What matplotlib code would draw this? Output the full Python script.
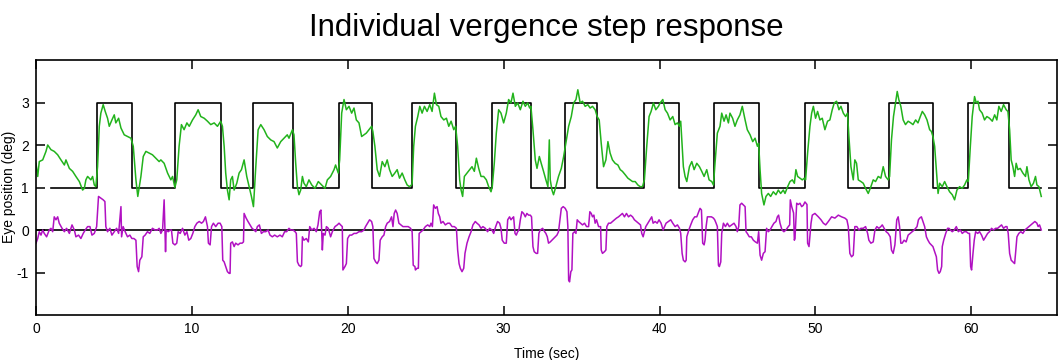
import matplotlib
matplotlib.use("Agg")
import matplotlib.pyplot as plt

plt.rcParams['font.family'] = ['Liberation Sans', 'DejaVu Sans']
plt.rcParams['axes.unicode_minus'] = False

# target (step stimulus): switch times and level held from each time
target_t = [0.95, 3.89, 6.13, 8.90, 11.85, 13.94, 16.48, 19.45, 21.57, 24.09,
            26.95, 29.28, 31.73, 33.96, 36.02, 38.99, 41.28, 43.50, 46.40,
            49.35, 52.08, 54.75, 57.57, 59.80, 62.40, 64.50]
target_level = [1, 3, 1, 3, 1, 3, 1, 3, 1, 3, 1, 3, 1, 3, 1, 3, 1, 3, 1,
                3, 1, 3, 1, 3, 1, 1]

# vergence eye position (green)
green_t = [
    0.0, 0.11, 0.21, 0.43, 0.64, 0.75, 0.96, 1.17, 1.39, 1.60, 1.82, 1.92, 2.14, 2.35, 2.56,
    2.78, 2.99, 3.10, 3.20, 3.31, 3.52, 3.63, 3.74, 3.84, 3.95, 4.06, 4.16, 4.31, 4.44, 4.59,
    4.70, 4.87, 5.02, 5.12, 5.30, 5.45, 5.66, 5.87, 6.09, 6.24, 6.41, 6.53, 6.73, 6.88, 7.05,
    7.26, 7.47, 7.69, 7.90,
    8.01, 8.22, 8.44, 8.65, 8.76, 8.91, 9.03, 9.18, 9.33, 9.50, 9.68, 9.83, 10.04, 10.25, 10.40,
    10.57, 10.79, 11.0, 11.21, 11.43, 11.64, 11.85, 11.96, 12.07, 12.17, 12.28, 12.39, 12.49, 12.6, 12.71,
    12.88, 13.03, 13.18, 13.35, 13.52, 13.67, 13.82, 13.95, 14.1, 14.25, 14.42, 14.63, 14.84, 15.06, 15.27,
    15.48, 15.70, 15.91, 16.12,
    16.23, 16.45, 16.55, 16.66, 16.77, 16.87, 16.98, 17.09, 17.19, 17.34, 17.51, 17.69, 17.90, 18.11, 18.33,
    18.54, 18.69, 18.90, 19.12, 19.22, 19.39, 19.48, 19.61, 19.76, 19.91, 20.08, 20.25, 20.40, 20.55, 20.72,
    20.89, 21.04, 21.19, 21.36, 21.53, 21.61, 21.74, 21.89, 22.04, 22.21, 22.38, 22.53, 22.68, 22.85, 23.02,
    23.17, 23.32, 23.49, 23.66, 23.81, 23.96, 24.09,
    24.13, 24.23, 24.34, 24.49, 24.62, 24.77, 24.92, 25.09, 25.26, 25.41, 25.56, 25.69, 25.84, 25.98, 26.16,
    26.33, 26.48, 26.63, 26.8, 26.92, 27.05, 27.18, 27.27, 27.37, 27.48, 27.65, 27.82, 27.97, 28.12, 28.25,
    28.4, 28.55, 28.72, 28.89, 29.04, 29.19, 29.27, 29.4, 29.53, 29.68, 29.83, 30.0, 30.17, 30.32, 30.47,
    30.6, 30.75, 30.9, 31.07, 31.24, 31.39, 31.54, 31.67, 31.75, 31.88,
    32.03, 32.14, 32.29, 32.41, 32.56, 32.71, 32.84, 32.93, 32.99, 33.1, 33.2, 33.35, 33.52, 33.7, 33.85,
    33.99, 34.17, 34.34, 34.49, 34.64, 34.76, 34.91, 35.06, 35.23, 35.4, 35.55, 35.7, 35.87, 36.0, 36.13,
    36.26, 36.41, 36.56, 36.69, 36.83, 36.98, 37.15, 37.33, 37.48, 37.62, 37.8, 37.97, 38.12, 38.27, 38.44,
    38.61, 38.76, 38.91, 39.03, 39.18, 39.33, 39.46, 39.61, 39.76, 39.93,
    40.04, 40.21, 40.36, 40.51, 40.68, 40.85, 41.0, 41.15, 41.28, 41.36, 41.45, 41.53, 41.64, 41.75, 41.92,
    42.07, 42.22, 42.39, 42.56, 42.71, 42.86, 43.03, 43.18, 43.35, 43.46, 43.56, 43.71, 43.88, 43.99, 44.14,
    44.27, 44.42, 44.52, 44.69, 44.84, 44.99, 45.16, 45.31, 45.49, 45.63, 45.81, 45.98, 46.13, 46.28, 46.36,
    46.45, 46.55, 46.7, 46.83, 46.98, 47.13, 47.3, 47.47, 47.62, 47.77, 47.94,
    48.05, 48.22, 48.37, 48.52, 48.65, 48.75, 48.86, 49.01, 49.16, 49.29, 49.37, 49.5, 49.65, 49.76, 49.87,
    50.01, 50.14, 50.29, 50.44, 50.61, 50.78, 50.93, 51.08, 51.21, 51.36, 51.51, 51.64, 51.79, 51.94, 52.06,
    52.15, 52.28, 52.43, 52.53, 52.64, 52.75, 52.92, 53.07, 53.22, 53.39, 53.56, 53.71, 53.86, 54.03, 54.2,
    54.35, 54.5, 54.67, 54.76, 54.88, 55.01, 55.14, 55.25, 55.35, 55.48, 55.63, 55.78, 55.95, 56.12,
    56.26, 56.43, 56.58, 56.73, 56.86, 57.01, 57.16, 57.33, 57.44, 57.54, 57.65, 57.76, 57.87, 57.97, 58.14,
    58.29, 58.44, 58.61, 58.78, 58.93, 59.08, 59.25, 59.42, 59.57, 59.72, 59.81, 59.94, 60.06, 60.21, 60.32,
    60.43, 60.53, 60.7, 60.85, 61.0, 61.17, 61.35, 61.5, 61.64, 61.77, 61.92, 62.07, 62.24, 62.35, 62.46,
    62.56, 62.67, 62.78, 62.88, 62.99, 63.14, 63.31, 63.48, 63.57, 63.7, 63.84, 63.99, 64.12, 64.21, 64.34,
    64.49,
]
green_v = [
    1.57, 1.26, 1.61, 1.65, 1.85, 2.0, 1.89, 1.85, 1.77, 1.65, 1.53, 1.65, 1.45, 1.38, 1.26,
    1.14, 0.94, 0.98, 1.18, 1.26, 1.18, 1.26, 1.06, 1.02, 1.49, 2.44, 2.75, 2.95, 2.79, 2.63,
    2.44, 2.59, 2.71, 2.52, 2.63, 2.40, 2.24, 2.2, 2.16, 1.97, 1.18, 0.79, 1.26, 1.73, 1.85,
    1.81, 1.77, 1.69, 1.61,
    1.65, 1.57, 1.34, 1.18, 1.26, 1.0, 1.18, 1.97, 2.48, 2.36, 2.52, 2.44, 2.59, 2.71, 2.83,
    2.67, 2.63, 2.56, 2.48, 2.52, 2.44, 2.56, 2.44, 1.97, 1.34, 0.94, 0.71, 1.18, 1.26, 0.94,
    1.1, 1.34, 1.42, 1.65, 1.26, 1.02, 0.79, 0.55, 1.49, 2.36, 2.48, 2.36, 2.2, 2.12, 2.08,
    1.93, 2.08, 2.16, 2.24,
    2.16, 2.36, 2.24, 1.57, 1.02, 0.83, 0.94, 1.26, 1.1, 1.02, 1.18, 1.06, 0.98, 1.14, 1.06,
    0.98, 1.18, 1.26, 1.42, 1.53, 1.34, 1.65, 2.75, 3.07, 2.83, 2.91, 2.75, 2.87, 2.59, 2.52,
    2.2, 2.24, 2.28, 2.36, 2.44, 2.32, 1.97, 1.42, 1.26, 1.61, 1.49, 1.65, 1.42, 1.26, 1.34,
    1.42, 1.22, 1.34, 1.18, 1.06, 1.02, 1.06,
    1.1, 1.97, 2.44, 2.67, 2.91, 2.75, 2.91, 2.79, 2.95, 2.79, 3.22, 2.95, 2.91, 2.67, 2.59,
    2.63, 2.44, 2.56, 2.36, 2.44, 1.97, 1.18, 0.94, 0.79, 1.26, 1.34, 1.42, 1.49, 1.38, 1.69,
    1.45, 1.26, 1.26, 1.18, 1.02, 0.9, 1.02, 1.57, 2.28, 2.83, 2.75, 2.52, 2.75, 3.07, 2.99,
    3.22, 2.91, 2.99, 2.83, 3.03, 2.91, 2.99, 2.87, 2.91, 2.36,
    1.65, 1.45, 1.73, 1.57, 1.38, 1.18, 1.02, 2.12, 1.18, 0.94, 0.83, 1.02, 1.26, 1.45, 1.73,
    2.04, 2.44, 2.67, 2.99, 3.07, 3.3, 2.99, 3.03, 2.91, 2.95, 2.87, 2.91, 2.83, 2.67, 2.59,
    2.04, 1.49, 1.65, 2.08, 1.81, 1.65, 1.57, 1.53, 1.42, 1.38, 1.3, 1.22, 1.18, 1.14, 1.14,
    1.06, 1.02, 1.02, 1.18, 1.97, 2.67, 2.79, 2.99, 2.83, 2.91,
    2.99, 3.07, 2.83, 2.75, 2.59, 2.67, 2.48, 2.52, 2.44, 2.56, 1.97, 1.49, 1.26, 1.14, 1.49,
    1.61, 1.42, 1.57, 1.49, 1.38, 1.26, 1.42, 1.18, 1.14, 1.06, 1.57, 2.28, 2.44, 2.75, 2.56,
    2.71, 2.52, 2.75, 2.63, 2.44, 2.59, 2.71, 2.91, 2.59, 2.36, 2.24, 2.08, 2.16, 1.97, 2.04,
    1.42, 0.86, 0.59, 0.79, 0.86, 0.79, 0.9, 0.83, 0.94, 0.86, 0.94,
    0.86, 1.02, 1.14, 1.18, 1.1, 1.42, 1.26, 1.22, 1.18, 1.22, 1.18, 1.81, 2.44, 2.75, 2.91,
    2.63, 2.79, 2.59, 2.63, 2.36, 2.56, 2.59, 2.83, 2.99, 3.03, 2.83, 2.91, 2.75, 2.67, 2.75,
    2.2, 1.49, 1.18, 1.65, 1.57, 1.18, 1.14, 1.1, 0.98, 0.86, 1.02, 1.18, 1.14, 1.26, 1.22,
    1.49, 1.26, 1.18, 1.26, 2.12, 2.67, 2.99, 3.26, 3.07, 2.91, 2.59, 2.48, 2.56, 2.52,
    2.48, 2.59, 2.52, 2.67, 2.79, 2.71, 2.59, 2.36, 2.32, 2.2, 1.97, 1.42, 0.86, 1.1, 1.02,
    1.14, 1.02, 0.9, 0.83, 0.71, 0.94, 1.02, 0.98, 1.06, 1.18, 1.14, 1.97, 2.67, 3.14, 2.99,
    3.03, 2.83, 2.75, 2.59, 2.67, 2.63, 2.56, 2.71, 2.59, 2.91, 2.79, 2.95, 2.83, 2.79, 2.36,
    1.65, 1.49, 1.26, 1.57, 1.42, 1.45, 1.34, 1.26, 1.49, 1.18, 1.02, 1.1, 1.26, 1.06, 1.02,
    0.79,
]

# version / error trace (magenta)
magenta_t = [
    0.0, 0.11, 0.21, 0.32, 0.43, 0.53, 0.68, 0.85, 0.96, 1.07, 1.17, 1.28, 1.39, 1.49, 1.67,
    1.82, 1.96, 2.14, 2.31, 2.46, 2.56, 2.73, 2.88, 3.03, 3.16, 3.31, 3.46, 3.59, 3.74, 3.89,
    4.01, 4.16, 4.31, 4.42, 4.48, 4.59, 4.74, 4.87, 5.02, 5.17, 5.3, 5.45, 5.49, 5.59, 5.72,
    5.87, 6.02, 6.15, 6.28, 6.41, 6.49, 6.58, 6.66, 6.79, 6.88, 7.0, 7.15, 7.3, 7.47, 7.64,
    7.79, 7.9,
    8.01, 8.12, 8.22, 8.31, 8.35, 8.48, 8.61, 8.69, 8.78, 8.91, 9.03, 9.12, 9.25, 9.4, 9.55,
    9.68, 9.8, 9.93, 10.06, 10.19, 10.32, 10.47, 10.62, 10.74, 10.87, 11.0, 11.06, 11.17, 11.26, 11.38,
    11.53, 11.68, 11.81, 11.92, 11.98, 12.07, 12.17, 12.28, 12.39, 12.45, 12.49, 12.6, 12.71, 12.81, 12.96,
    13.09, 13.22, 13.31, 13.35, 13.48, 13.6, 13.73, 13.86, 13.99, 14.1, 14.2, 14.33, 14.46, 14.59, 14.74,
    14.89, 15.01, 15.16, 15.31, 15.48, 15.65, 15.8, 15.95, 16.08, 16.23,
    16.34, 16.49, 16.62, 16.7, 16.77, 16.87, 16.98, 17.04, 17.09, 17.19, 17.34, 17.47, 17.56, 17.69, 17.84,
    17.98, 18.09, 18.2, 18.28, 18.37, 18.43, 18.54, 18.63, 18.75, 18.9, 19.01, 19.18, 19.33, 19.44, 19.54,
    19.65, 19.69, 19.82, 19.91, 19.99, 20.12, 20.25, 20.4, 20.55, 20.72, 20.89, 21.04, 21.14, 21.27, 21.4,
    21.53, 21.61, 21.68, 21.79, 21.89, 22.0, 22.08, 22.21, 22.32, 22.43, 22.53, 22.68, 22.81, 22.9, 22.98,
    23.07, 23.17, 23.28, 23.41, 23.54, 23.71, 23.88, 24.03, 24.13, 24.2, 24.31,
    24.34, 24.45, 24.53, 24.58, 24.7, 24.83, 24.98, 25.13, 25.26, 25.34, 25.43, 25.51, 25.62, 25.73, 25.81,
    25.9, 25.98, 26.11, 26.26, 26.41, 26.54, 26.69, 26.84, 26.97, 27.05, 27.14, 27.22, 27.33, 27.44, 27.52,
    27.65, 27.78, 27.91, 28.03, 28.18, 28.29, 28.42, 28.55, 28.67, 28.82, 28.97, 29.1, 29.25, 29.36, 29.49,
    29.61, 29.74, 29.83, 29.91, 30.04, 30.17, 30.26, 30.38, 30.47, 30.56, 30.64, 30.73, 30.81, 30.9, 30.98,
    31.07, 31.17, 31.28, 31.39, 31.49, 31.6, 31.71, 31.79, 31.88, 31.96, 32.09, 32.18, 32.26,
    32.35, 32.5, 32.63, 32.71, 32.8, 32.88, 32.99, 33.1, 33.2, 33.31, 33.42, 33.52, 33.7, 33.82, 33.95,
    34.06, 34.12, 34.17, 34.23, 34.31, 34.38, 34.44, 34.55, 34.64, 34.72, 34.81, 34.93, 35.06, 35.19, 35.32,
    35.45, 35.53, 35.62, 35.7, 35.79, 35.87, 35.96, 36.09, 36.22, 36.26, 36.34, 36.47, 36.56, 36.62, 36.73,
    36.86, 36.98, 37.11, 37.24, 37.37, 37.5, 37.62, 37.75, 37.88, 38.01, 38.14, 38.27, 38.39, 38.52, 38.65,
    38.78, 38.86, 38.95, 39.03, 39.12, 39.25, 39.38, 39.5, 39.59, 39.72, 39.85, 39.97, 40.1, 40.23,
    40.42, 40.57, 40.72, 40.85, 41.0, 41.15, 41.28, 41.36, 41.45, 41.53, 41.64, 41.71, 41.75, 41.88, 42.0,
    42.13, 42.26, 42.39, 42.52, 42.6, 42.69, 42.77, 42.86, 42.92, 42.99, 43.07, 43.2, 43.33, 43.46, 43.54,
    43.63, 43.71, 43.78, 43.84, 43.93, 43.99, 44.1, 44.23, 44.35, 44.48, 44.63, 44.78, 44.91, 44.99, 45.08,
    45.16, 45.27, 45.38, 45.49, 45.55, 45.63, 45.76, 45.89, 46.02, 46.15, 46.28, 46.36, 46.45, 46.55, 46.66,
    46.77, 46.87, 46.98, 47.09, 47.21, 47.34, 47.47, 47.56, 47.64, 47.73, 47.86, 47.98, 48.11,
    48.26, 48.35, 48.39, 48.48, 48.6, 48.65, 48.69, 48.8, 48.9, 49.01, 49.12, 49.22, 49.33, 49.46, 49.5,
    49.59, 49.72, 49.8, 49.97, 50.19, 50.36, 50.51, 50.66, 50.83, 51.04, 51.25, 51.47, 51.68, 51.89, 52.02,
    52.11, 52.21, 52.32, 52.43, 52.53, 52.66, 52.79, 52.92, 53.07, 53.22, 53.35, 53.43, 53.56, 53.71, 53.82,
    53.94, 54.07, 54.2, 54.29, 54.41, 54.54, 54.67, 54.8, 54.88, 54.99, 55.1, 55.22, 55.31, 55.4, 55.48,
    55.57, 55.69, 55.82, 55.95, 56.08, 56.21, 56.34,
    56.52, 56.61, 56.69, 56.8, 56.9, 57.01, 57.12, 57.22, 57.33, 57.44, 57.54, 57.65, 57.76, 57.84, 57.93,
    58.01, 58.1, 58.14, 58.23, 58.36, 58.48, 58.57, 58.66, 58.78, 58.91, 59.04, 59.17, 59.3, 59.42, 59.55,
    59.68, 59.81, 59.89, 59.96, 60.02, 60.11, 60.19, 60.28, 60.41, 60.53, 60.66, 60.79, 60.92, 61.05, 61.17,
    61.3, 61.43, 61.56, 61.69, 61.82, 61.94, 62.07, 62.2, 62.29, 62.37, 62.46, 62.56, 62.67, 62.78, 62.84,
    62.93, 63.05, 63.18, 63.31, 63.44, 63.57, 63.7, 63.82, 63.95, 64.08, 64.21, 64.29, 64.38, 64.49,
]
magenta_v = [
    -0.31, -0.2, -0.04, -0.12, 0.0, -0.08, -0.16, 0.0, 0.04, -0.04, 0.31, 0.24, 0.31, 0.16, 0.04,
    -0.04, 0.04, -0.08, 0.12, 0.0, -0.16, -0.12, -0.2, -0.08, 0.0, 0.08, 0.08, -0.12, -0.08, 0.08,
    0.79, 0.75, 0.71, 0.67, 0.08, -0.04, 0.04, -0.12, -0.04, 0.04, -0.08, 0.55, -0.16, 0.08, -0.04,
    -0.16, -0.12, -0.2, -0.2, -0.24, -0.86, -0.98, -0.71, -0.63, -0.16, -0.12, -0.04, -0.08, 0.04, 0.0,
    0.0, 0.04,
    -0.08, 0.0, 0.71, -0.51, 0.0, -0.04, 0.0, 0.0, -0.31, -0.35, -0.31, -0.04, -0.08, 0.04, -0.12,
    -0.04, -0.24, -0.2, -0.08, 0.08, 0.16, 0.2, 0.16, 0.2, 0.31, 0.08, -0.31, -0.35, 0.08, 0.16,
    0.08, 0.16, 0.16, 0.08, -0.71, -0.75, -0.86, -0.98, -1.02, -1.02, -0.31, -0.28, -0.39, -0.31, -0.35,
    -0.31, -0.31, -0.28, 0.39, 0.28, 0.2, 0.12, 0.04, 0.0, -0.04, 0.08, 0.12, -0.08, -0.04, -0.04,
    0.0, -0.12, -0.16, -0.12, -0.16, -0.12, -0.16, -0.04, -0.04, 0.04,
    0.0, 0.0, -0.04, -0.08, -0.75, -0.83, -0.86, -0.83, -0.16, -0.24, -0.2, -0.28, 0.08, 0.0, 0.04,
    -0.04, 0.12, 0.43, 0.47, -0.47, -0.08, -0.12, 0.08, 0.04, -0.16, -0.04, 0.08, 0.12, 0.16, 0.12,
    0.08, -0.94, -0.86, -0.79, -0.2, -0.12, -0.12, -0.08, -0.08, -0.04, -0.04, 0.0, 0.08, 0.16, 0.24,
    0.2, 0.08, -0.67, -0.75, -0.79, -0.71, -0.24, -0.16, -0.12, 0.08, 0.16, 0.2, 0.31, 0.08, 0.39,
    0.47, 0.39, 0.16, 0.12, 0.08, 0.08, 0.08, 0.04, -0.04, -0.83, -0.86,
    -0.94, -0.9, -0.9, -0.08, -0.04, 0.0, 0.08, 0.12, 0.08, 0.16, 0.08, 0.59, 0.51, 0.55, 0.39,
    0.31, 0.16, 0.2, 0.12, 0.16, 0.16, 0.08, 0.08, 0.04, -0.47, -0.79, -0.9, -0.98, -0.9, -0.55,
    -0.31, -0.16, -0.04, 0.12, 0.2, 0.16, 0.12, 0.04, 0.08, 0.04, -0.04, 0.04, 0.0, -0.08, 0.08,
    0.2, 0.16, 0.04, -0.24, -0.31, -0.31, 0.24, 0.31, 0.24, 0.28, 0.31, -0.08, -0.12, -0.04, 0.0,
    0.24, 0.43, 0.39, 0.31, 0.39, 0.35, 0.35, 0.31, -0.39, -0.51, -0.55, -0.55, -0.08,
    0.0, 0.04, -0.04, -0.08, -0.16, -0.31, -0.28, -0.24, -0.2, -0.16, -0.12, -0.04, 0.51, 0.55, 0.51,
    0.43, 0.08, -1.18, -1.22, -0.98, -0.94, -0.08, -0.04, -0.08, 0.24, 0.2, 0.16, 0.12, 0.16, 0.08,
    0.08, 0.43, 0.39, 0.31, 0.35, 0.16, 0.24, 0.08, 0.08, -0.47, -0.55, -0.51, -0.47, 0.08, 0.16,
    0.16, 0.2, 0.24, 0.28, 0.31, 0.35, 0.39, 0.31, 0.39, 0.31, 0.35, 0.31, 0.24, 0.2, 0.16,
    0.12, -0.08, -0.16, -0.04, 0.08, 0.16, 0.24, 0.31, 0.16, 0.2, 0.16, 0.24, 0.16, 0.0,
    0.16, 0.2, 0.24, 0.16, 0.08, 0.12, 0.04, -0.08, -0.55, -0.71, -0.75, -0.71, -0.16, 0.0, 0.12,
    0.24, 0.31, 0.31, 0.43, 0.51, 0.47, -0.31, -0.35, -0.24, 0.08, 0.31, 0.31, 0.31, 0.28, 0.24,
    0.16, 0.08, -0.83, -0.86, -0.75, -0.08, 0.16, 0.08, 0.16, 0.08, 0.12, 0.16, 0.08, -0.04, 0.08,
    0.59, 0.63, 0.59, 0.55, -0.04, -0.08, -0.16, -0.16, -0.24, -0.28, -0.31, -0.04, -0.59, -0.71, -0.55,
    -0.51, 0.04, -0.04, 0.0, 0.08, 0.16, 0.2, 0.31, 0.35, 0.16, 0.0, -0.04, 0.0,
    0.08, 0.12, 0.71, 0.55, 0.4, -0.24, -0.2, 0.63, 0.6, 0.63, 0.55, 0.58, 0.66, 0.6, -0.31,
    -0.39, 0.16, 0.35, 0.39, 0.31, 0.24, 0.16, 0.12, 0.2, 0.31, 0.28, 0.35, 0.31, 0.28, 0.24,
    0.08, -0.55, -0.63, -0.59, 0.08, 0.08, 0.0, 0.04, 0.04, 0.08, -0.08, -0.24, -0.31, -0.28, 0.0,
    0.08, 0.04, 0.08, 0.12, 0.04, -0.04, -0.08, -0.16, -0.47, -0.55, -0.35, 0.24, 0.31, 0.08, -0.31,
    -0.31, -0.24, -0.28, -0.12, -0.08, -0.04, 0.0,
    0.08, 0.24, 0.28, 0.31, 0.2, 0.08, -0.16, -0.24, -0.31, -0.35, -0.39, -0.51, -0.63, -0.94, -1.02,
    -0.98, -0.86, -0.39, -0.24, -0.08, 0.04, 0.04, 0.0, -0.04, 0.0, 0.08, -0.04, 0.0, -0.08, -0.04,
    -0.04, -0.08, -0.08, -0.86, -0.94, -0.55, -0.24, -0.04, -0.08, -0.04, -0.12, -0.24, -0.16, -0.08, -0.04,
    0.04, 0.0, 0.04, 0.04, 0.08, 0.12, 0.04, 0.08, 0.08, -0.08, -0.55, -0.71, -0.75, -0.79, -0.55,
    -0.16, -0.08, -0.04, -0.08, 0.0, 0.04, 0.08, 0.12, 0.16, 0.2, 0.16, 0.08, 0.12, 0.0,
]

fig = plt.figure(figsize=(10.62, 3.6), dpi=100)
ax = fig.add_axes([0.0339, 0.125, 0.9614, 0.7083])

ax.plot(target_t, target_level, color='black', lw=1.2, drawstyle='steps-post')
ax.hlines(0, 0, 64.5, color='black', lw=1.2)
ax.plot(green_t, green_v, color='#22b31c', lw=1.1)
ax.plot(magenta_t, magenta_v, color='#b111c2', lw=1.1)

ax.set_xlim(0, 65.5)
ax.set_ylim(-2, 4)
ax.set_xticks([0, 10, 20, 30, 40, 50, 60])
ax.set_yticks([-1, 0, 1, 2, 3])
ax.tick_params(direction='in', length=6.5, width=1.1, top=True, right=True,
               labelsize=10, pad=5)
for s in ax.spines.values():
    s.set_linewidth(1.2)

ax.set_title('Individual vergence step response', fontsize=22.5, pad=17)
ax.set_xlabel('Time (sec)', fontsize=10, labelpad=8)
fig.text(0.0085, 0.48, 'Eye position (deg)', rotation=90, fontsize=10,
         ha='center', va='center')

fig.savefig('out.png', dpi=100)
